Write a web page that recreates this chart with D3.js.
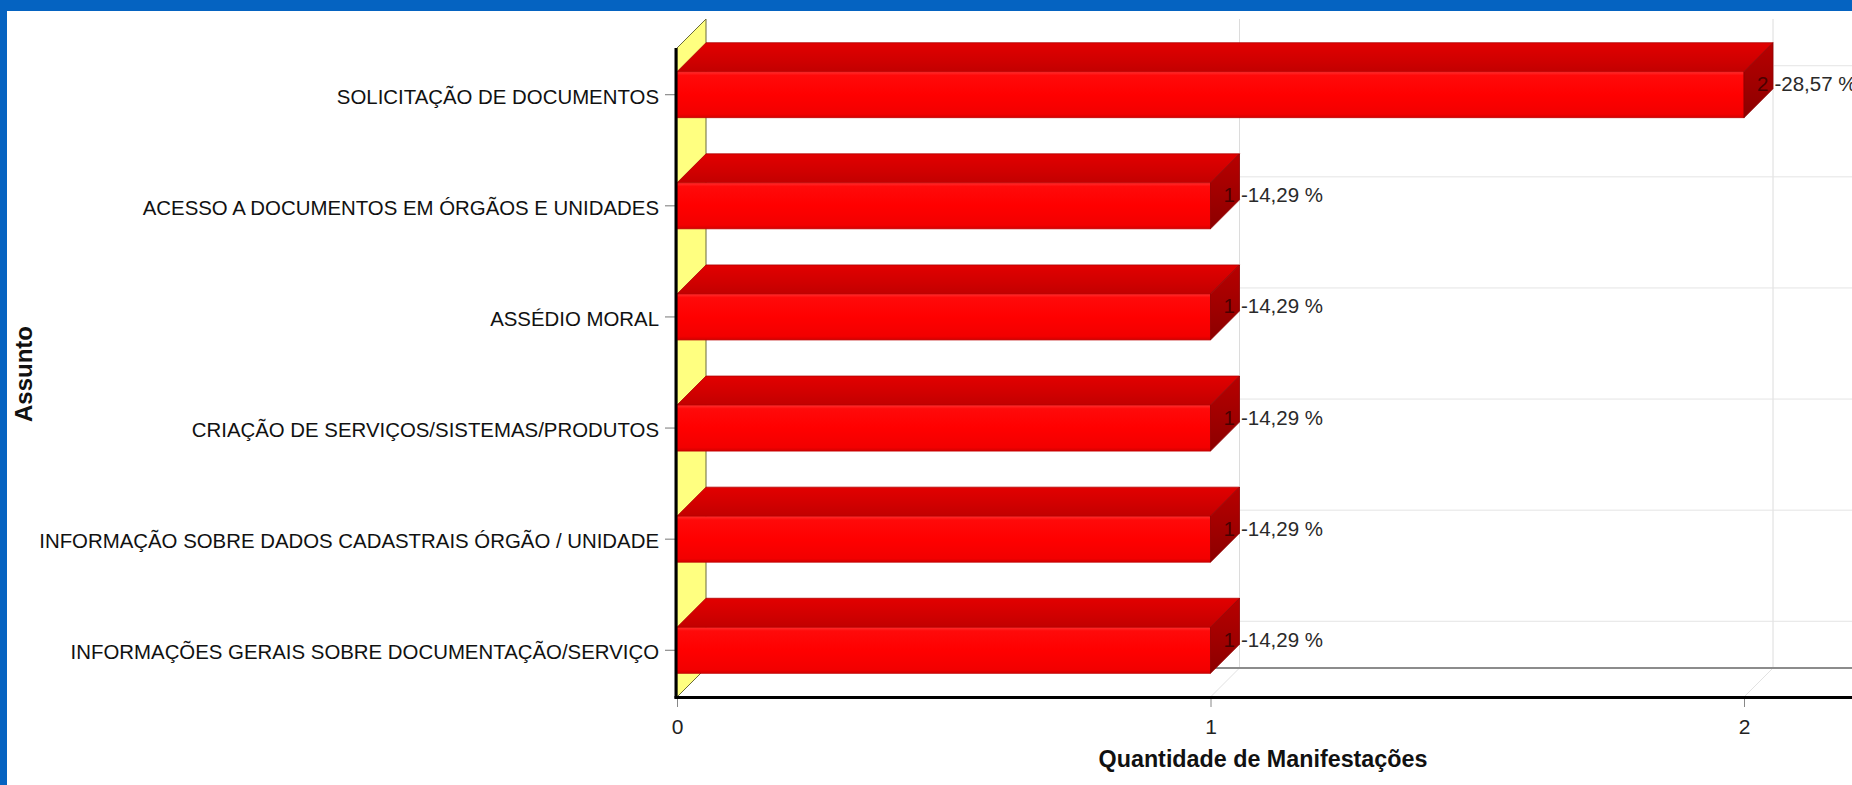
<!DOCTYPE html>
<html>
<head>
<meta charset="utf-8">
<script src="https://cdn.jsdelivr.net/npm/d3@7/dist/d3.min.js"></script>
<style>
  html, body { margin: 0; padding: 0; background: #fff; }
  svg { display: block; }
</style>
</head>
<body>
<svg id="chart" width="1852" height="785"></svg>
<script>
// ---- data ----
const categories = [
  "SOLICITAÇÃO DE DOCUMENTOS",
  "ACESSO A DOCUMENTOS EM ÓRGÃOS E UNIDADES",
  "ASSÉDIO MORAL",
  "CRIAÇÃO DE SERVIÇOS/SISTEMAS/PRODUTOS",
  "INFORMAÇÃO SOBRE DADOS CADASTRAIS ÓRGÃO / UNIDADE",
  "INFORMAÇÕES GERAIS SOBRE DOCUMENTAÇÃO/SERVIÇO"
];
const values = [2, 1, 1, 1, 1, 1];
const percentLabels = ["28,57 %", "14,29 %", "14,29 %", "14,29 %", "14,29 %", "14,29 %"];
const xTicks = [0, 1, 2];
const xTitle = "Quantidade de Manifestações";
const yTitle = "Assunto";

// ---- layout ----
const W = 1852, H = 785;
const DX = 29, DY = 29;          // 3D depth offset
const plotTop = 48, plotBottom = 697, plotLeft = 677;
const FONT = "'Liberation Sans', Arial, sans-serif";

const svg = d3.select("#chart");

const x = d3.scaleLinear().domain([0, 2.2]).range([plotLeft, plotLeft + 533.5 * 2.2]);
const y = d3.scaleBand().domain(categories).range([plotTop, plotBottom])
  .paddingInner(0.586).paddingOuter(0.2135);
const bw = y.bandwidth();

// gradients
const defs = svg.append("defs");
function vGrad(id, stops) {
  const g = defs.append("linearGradient").attr("id", id)
    .attr("x1", 0).attr("y1", 0).attr("x2", 0).attr("y2", 1);
  stops.forEach(s => g.append("stop").attr("offset", s[0]).attr("stop-color", s[1]));
}
vGrad("gFront", [[0, "#ff3030"], [0.08, "#ff0a0a"], [0.5, "#ff0000"], [0.92, "#f20000"], [1, "#d40000"]]);
vGrad("gTop", [[0, "#e20000"], [0.6, "#d00000"], [1, "#c20000"]]);
vGrad("gSide", [[0, "#b80000"], [1, "#8c0000"]]);

// background
svg.append("rect").attr("width", W).attr("height", H).attr("fill", "#fff");

// back-wall gridlines (range)
const g = svg.append("g");
xTicks.filter(t => t > 0).forEach(t => {
  g.append("line").attr("x1", x(t) + DX).attr("x2", x(t) + DX)
    .attr("y1", plotTop - DY).attr("y2", plotBottom - DY)
    .attr("stroke", "#dcdcdc").attr("stroke-width", 1);
  g.append("line").attr("x1", x(t) + DX).attr("x2", x(t))
    .attr("y1", plotBottom - DY).attr("y2", plotBottom)
    .attr("stroke", "#e2e2e2").attr("stroke-width", 1);
});
// category gridlines on back wall
categories.forEach(c => {
  const yc = y(c) + bw / 2 - DY;
  g.append("line").attr("x1", plotLeft + DX).attr("x2", W)
    .attr("y1", yc).attr("y2", yc)
    .attr("stroke", "#e4e4e4").attr("stroke-width", 1);
});
// floor back edge
g.append("line").attr("x1", plotLeft + DX).attr("x2", W)
  .attr("y1", plotBottom - DY).attr("y2", plotBottom - DY)
  .attr("stroke", "#8c8c8c").attr("stroke-width", 2.2);

// yellow left wall
svg.append("polygon")
  .attr("points", [[plotLeft, plotTop], [plotLeft + DX, plotTop - DY],
                   [plotLeft + DX, plotBottom - DY], [plotLeft, plotBottom]].map(p => p.join(",")).join(" "))
  .attr("fill", "#ffff80").attr("stroke", "#6b6b3a").attr("stroke-width", 1);

// bars
const bars = svg.append("g");
categories.forEach((c, i) => {
  const x0 = x(0), x1 = x(values[i]);
  const y0 = y(c), y1 = y0 + bw;
  bars.append("polygon")
    .attr("points", [[x0, y0], [x1, y0], [x1 + DX, y0 - DY], [x0 + DX, y0 - DY]].map(p => p.join(",")).join(" "))
    .attr("fill", "url(#gTop)").attr("stroke", "#b00000").attr("stroke-width", 0.8);
  bars.append("rect").attr("x", x0).attr("y", y0).attr("width", x1 - x0).attr("height", bw)
    .attr("fill", "url(#gFront)").attr("stroke", "#c00000").attr("stroke-width", 0.8);
  bars.append("polygon")
    .attr("points", [[x1, y0], [x1 + DX, y0 - DY], [x1 + DX, y1 - DY], [x1, y1]].map(p => p.join(",")).join(" "))
    .attr("fill", "url(#gSide)").attr("stroke", "#900000").attr("stroke-width", 0.8);
});

// value labels
categories.forEach((c, i) => {
  const t = svg.append("text")
    .attr("x", x(values[i]) + 13).attr("y", y(c) + 19.5)
    .attr("font-family", FONT).attr("font-size", 20.5).attr("fill", "#2a2a2a");
  t.append("tspan").attr("fill", "#4a0000").text(values[i]);
  t.append("tspan").attr("dx", 6).text("-" + percentLabels[i]);
});

// axes
const yAxis = svg.append("g").attr("transform", `translate(${plotLeft - 2},0)`)
  .call(d3.axisLeft(y).tickSize(10).tickPadding(6));
yAxis.select(".domain").remove();
yAxis.selectAll(".tick line").attr("stroke", "#777");
yAxis.selectAll(".tick text").attr("font-family", FONT).attr("font-size", 20.4)
  .attr("fill", "#111").attr("dy", "0.45em");

const xAxis = svg.append("g").attr("transform", `translate(0,${plotBottom})`)
  .call(d3.axisBottom(x).tickValues(xTicks).tickFormat(d3.format("d")).tickSize(10).tickPadding(12));
xAxis.select(".domain").remove();
xAxis.selectAll(".tick line").attr("stroke", "#888");
xAxis.selectAll(".tick text").attr("font-family", FONT).attr("font-size", 21).attr("fill", "#222");

// axis lines (thick)
svg.append("line").attr("x1", plotLeft - 1).attr("x2", plotLeft - 1)
  .attr("y1", plotTop).attr("y2", plotBottom + 1.5)
  .attr("stroke", "#000").attr("stroke-width", 3);
svg.append("line").attr("x1", plotLeft - 2.5).attr("x2", W)
  .attr("y1", plotBottom + 0.5).attr("y2", plotBottom + 0.5)
  .attr("stroke", "#000").attr("stroke-width", 3);

// axis titles
svg.append("text").attr("x", 1263).attr("y", 767).attr("text-anchor", "middle")
  .attr("font-family", FONT).attr("font-weight", "bold").attr("font-size", 23.3)
  .attr("fill", "#111").text(xTitle);
svg.append("text").attr("transform", `translate(32,374) rotate(-90)`).attr("text-anchor", "middle")
  .attr("font-family", FONT).attr("font-weight", "bold").attr("font-size", 24)
  .attr("fill", "#111").text(yTitle);

// blue frame (top and left)
svg.append("rect").attr("x", 0).attr("y", 0).attr("width", W).attr("height", 11).attr("fill", "#0563c1");
svg.append("rect").attr("x", 0).attr("y", 0).attr("width", 7).attr("height", H).attr("fill", "#0563c1");
</script>
</body>
</html>
